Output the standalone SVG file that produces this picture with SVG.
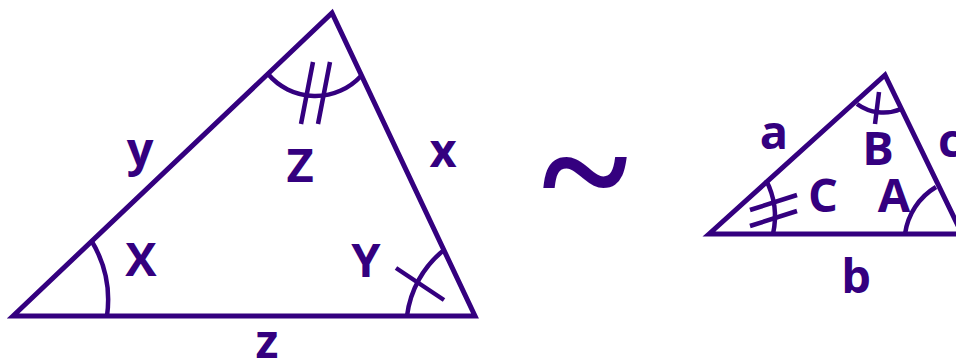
<svg xmlns="http://www.w3.org/2000/svg" width="956" height="359" viewBox="0 0 956 359">
<style>
.side{fill:none;stroke:#34007f;stroke-width:5;stroke-linecap:butt;stroke-linejoin:miter}
.mark{fill:none;stroke:#34007f;stroke-width:4.5}
.lbl{font-family:"Open Sans","Liberation Sans",sans-serif;font-weight:bold;font-size:47px;fill:#34007f;text-anchor:middle}
.sim{font-family:"Liberation Serif",serif;font-weight:bold;font-size:165px;fill:#34007f}
</style>
<rect width="956" height="359" fill="#ffffff"/>
<g id="connectors">
<g id="big-triangle">
<path class="side" d="M13,316 L332,13 L475,316 Z"/>
</g>
<g id="small-triangle">
<path class="side" d="M709,234 L885,75 L962,234 Z"/>
</g>
</g>
<g id="angle-X">
<path class="mark" d="M91,240 A115,115 0 0 1 107,316"/>
<text class="lbl" x="141" y="276">X</text>
</g>
<g id="angle-Z">
<path class="mark" d="M268,74 A62,62 0 0 0 361,76"/>
<path class="mark" d="M313,62 L301,124 M330,62 L318,124"/>
<text class="lbl" x="300" y="182">Z</text>
</g>
<g id="angle-Y">
<path class="mark" d="M444,250 A100,100 0 0 0 407,316"/>
<path class="mark" d="M396,268 L444,300"/>
<text class="lbl" x="366" y="277">Y</text>
</g>
<g id="side-labels-big">
<text class="lbl" x="140" y="166">y</text>
<text class="lbl" x="443" y="167">x</text>
<text class="lbl" x="267" y="358">z</text>
</g>
<g id="similar">
<text class="sim" x="542" y="227">~</text>
</g>
<g id="angle-B">
<path class="mark" d="M857,104 A45,45 0 0 0 901,109"/>
<path class="mark" d="M879,92 L875,124"/>
<text class="lbl" x="878" y="165">B</text>
</g>
<g id="angle-C">
<path class="mark" d="M766,180 A80,80 0 0 1 773,234"/>
<path class="mark" d="M750,210 L797,195 M750,226 L797,211"/>
<text class="lbl" x="823" y="212">C</text>
</g>
<g id="angle-A">
<path class="mark" d="M936,187 A65,65 0 0 0 905,234"/>
<text class="lbl" x="894" y="212">A</text>
</g>
<g id="side-labels-small">
<text class="lbl" x="774" y="149">a</text>
<text class="lbl" x="856" y="293">b</text>
<text class="lbl" x="950" y="157">c</text>
</g>
</svg>
